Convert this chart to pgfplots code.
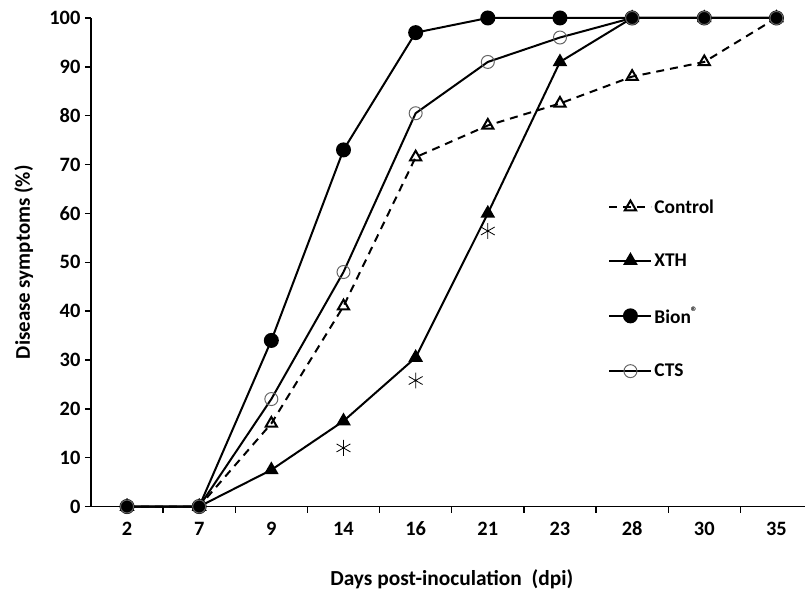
\documentclass[border=0pt]{standalone}
\usepackage{pgfplots}
\pgfplotsset{compat=1.18}
\usepackage{fontspec}
\setmainfont{Carlito}

\pgfplotstableread{
x  control xth  bion cts
0  0       0    0    0
1  0       0    0    0
2  17      7.5  34   22
3  41      17.5 73   48
4  71.5    30.5 97   80.5
5  78      60   100  91
6  82.5    91   100  96
7  88      100  100  100
8  91      100  100  100
9  100     100  100  100
}\disease

\begin{document}
\begin{tikzpicture}[x=1bp,y=1bp]
  \begin{axis}[
    scale only axis,
    width=715bp, height=489bp,
    xmin=-0.5, xmax=9.4,
    ymin=0, ymax=100,
    axis lines=left,
    axis line style={-, line width=1.4bp},
    clip=false,
    xtick={0,...,9},
    xticklabels={2,7,9,14,16,21,23,28,30,35},
    minor xtick={0.5,1.5,...,8.5},
    ytick={0,10,...,100},
    major tick length=6bp,
    minor tick length=6bp,
    tick align=outside,
    tick style={line width=1.4bp, black},
    major x tick style={draw=none},
    /pgf/number format/assume math mode=true,
    tick label style={font=\fontsize{20.5}{22}\selectfont\bfseries},
    xticklabel style={yshift=-5bp, text height=14bp},
    yticklabel style={xshift=-1bp},
    every axis y label/.style={at={(rel axis cs:-0.094,0.5)}, rotate=90, anchor=center},
    every axis x label/.style={at={(rel axis cs:0.505,-0.149)}, anchor=center},
    ylabel={\fontsize{21}{22}\selectfont\bfseries Disease symptoms (\%)},
    xlabel={\fontsize{21.5}{22}\selectfont\bfseries Days post-inoculation\ \ (dpi)},
    legend cell align=left,
    legend style={draw=none, fill=none, at={(0.72,0.637)}, anchor=north west,
      font=\fontsize{19.5}{22}\selectfont\bfseries, row sep=35bp,
      nodes={inner xsep=2bp}},
    legend image code/.code={
      \draw[mark repeat=2,mark phase=2] plot coordinates {(0bp,0bp) (21bp,0bp) (42bp,0bp)};
    },
  ]
    \addplot[black, line width=2bp, dashed, dash pattern=on 8bp off 6bp,
      mark=triangle, mark size=6.5bp, mark options={solid, line width=2bp, fill=white}]
      table[x=x, y=control] {\disease};
    \addlegendentry{Control}
    \addplot[black, line width=2bp,
      mark=triangle*, mark size=6.5bp, mark options={solid}]
      table[x=x, y=xth] {\disease};
    \addlegendentry{XTH}
    \addplot[black, line width=2bp,
      mark=*, mark size=6.5bp, mark options={solid}]
      table[x=x, y=bion] {\disease};
    \addlegendentry{Bion\textsuperscript{\textregistered}}
    \addplot[black, line width=2bp,
      mark=o, mark size=6.5bp, mark options={solid, fill=white, draw=black!60, line width=1bp}]
      table[x=x, y=cts] {\disease};
    \addlegendentry{CTS}
    \addplot[black, only marks, mark=asterisk, mark size=8bp,
      mark options={line width=0.8bp}, forget plot]
      coordinates {(3,12) (4,25.8) (5,56.4)};
    \path (rel axis cs:-0.1273,-0.1861) rectangle (rel axis cs:1,1.0368);
  \end{axis}
\end{tikzpicture}
\end{document}
